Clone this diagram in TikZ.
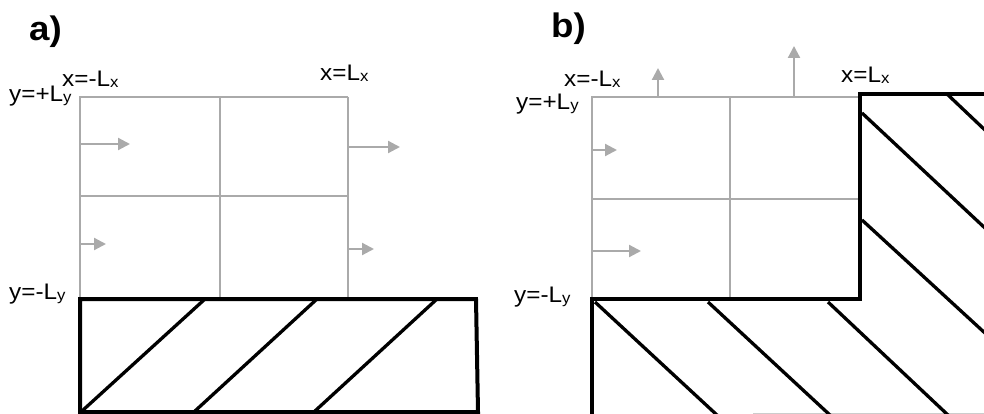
\documentclass[tikz,border=0pt]{standalone}
\usepackage{fontspec}
\setmainfont{Liberation Sans}[FakeStretch=1.08]
\usetikzlibrary{arrows.meta}
\definecolor{gr}{RGB}{170,170,170}
\newcommand{\sbx}[1]{\raisebox{-1pt}{\fontsize{15.5}{15.5}\selectfont #1}}
\tikzset{
  gridline/.style={draw=gr, line width=1.7pt},
  flux/.style={draw=gr, line width=2.2pt, -{Triangle[length=12pt,width=12pt]}},
  wall/.style={draw=black, line width=4pt, line join=miter},
  hatch/.style={draw=black, line width=3.3pt},
  lab/.style={anchor=base west, inner sep=0pt, font=\fontsize{22.5}{22.5}\selectfont},
  panel/.style={anchor=base west, inner sep=0pt, font=\fontsize{34}{34}\selectfont\bfseries},
}
\begin{document}
\begin{tikzpicture}[x=1pt,y=-1pt]
\useasboundingbox (0,0) rectangle (984,414);
% ---------- panel a ----------
\node[panel] (pa) at (29,41) {a)};
\draw[gridline] (80,297) -- (80,97) -- (348,97);
\draw[gridline] (220,97) -- (220,297);
\draw[gridline] (80,196) -- (348,196);
\draw[draw=gr, line width=2.7pt] (348,97) -- (348,297);
\coordinate (a1s) at (80,144); \coordinate (a1e) at (130,144);
\coordinate (a2s) at (80,244); \coordinate (a2e) at (106,244);
\coordinate (a3s) at (348,147); \coordinate (a3e) at (400,147);
\coordinate (a4s) at (348,249); \coordinate (a4e) at (374,249);
\draw[flux] (a1s) -- (a1e);
\draw[flux] (a2s) -- (a2e);
\draw[flux] (a3s) -- (a3e);
\draw[flux] (a4s) -- (a4e);
\draw[wall] (80,299) -- (476,299) -- (478,412) -- (80,412) -- cycle;
\draw[hatch] (82,411) -- (205,299);
\draw[hatch] (195,411) -- (317,299);
\draw[hatch] (315,411) -- (437,299);
\node[lab] (ta1) at (62,87) {x=-L\sbx{x}};
\node[lab] (ta2) at (9,102) {y=+L\sbx{y}};
\node[lab] (ta3) at (320,81) {x=L\sbx{x}};
\node[lab] (ta4) at (9,299) {y=-L\sbx{y}};
% ---------- panel b ----------
\node[panel] (pb) at (551,38) {b)};
\draw[gridline] (592,97) rectangle (859,298);
\draw[gridline] (730,97) -- (730,298);
\draw[gridline] (592,199) -- (859,199);
\coordinate (b1s) at (658,97); \coordinate (b1e) at (658,68);
\coordinate (b2s) at (794,97); \coordinate (b2e) at (794,46);
\coordinate (b3s) at (592,150); \coordinate (b3e) at (617,150);
\coordinate (b4s) at (592,251); \coordinate (b4e) at (641,251);
\draw[flux] (b1s) -- (b1e);
\draw[flux] (b2s) -- (b2e);
\draw[flux] (b3s) -- (b3e);
\draw[flux] (b4s) -- (b4e);
\draw[draw=gr!60, line width=1pt] (753,413.5) -- (984,413.5);
\draw[wall] (592,416) -- (592,299) -- (860,299) -- (860,94) -- (990,94);
\draw[hatch] (595,302) -- (718,416);
\draw[hatch] (708,302) -- (831,416);
\draw[hatch] (828,302) -- (949,416);
\draw[hatch] (862,220) -- (986,334);
\draw[hatch] (862,113) -- (986,229);
\draw[hatch] (947,94) -- (986,131);
\node[lab] (tb1) at (564,87) {x=-L\sbx{x}};
\node[lab] (tb2) at (516,110) {y=+L\sbx{y}};
\node[lab] (tb3) at (841,83) {x=L\sbx{x}};
\node[lab] (tb4) at (514,302) {y=-L\sbx{y}};
\end{tikzpicture}
\end{document}
